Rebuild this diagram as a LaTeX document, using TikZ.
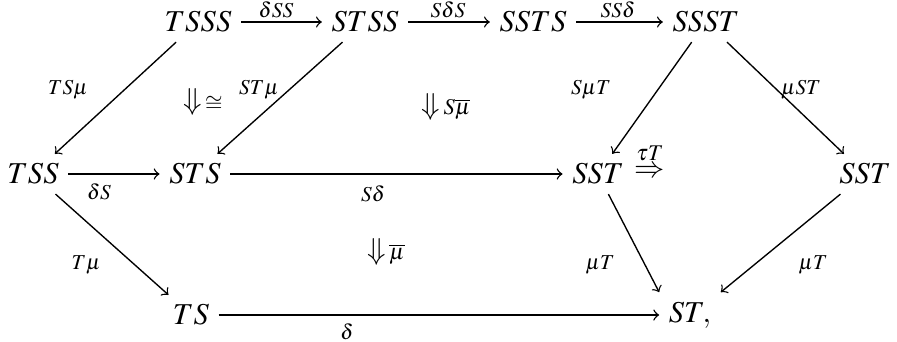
\documentclass[tikz,border=0pt]{standalone}
\usepackage{amsmath,amssymb}
\usepackage{mathptmx}
\usepackage{tikz}

\begin{document}
\begin{tikzpicture}[x=0.33pt,y=-0.33pt,
  every node/.style={inner sep=3pt},
  arr/.style={->,line width=0.45pt},
  lbl/.style={font=\scriptsize,inner sep=1pt}]
\useasboundingbox (0,0) rectangle (897,342);
% objects
\node (tsss) at (198,22) {$TSSS$};
\node (stss) at (365,22) {$STSS$};
\node (ssts) at (533,22) {$SSTS$};
\node (ssst) at (706,22) {$SSST$};
\node (tss) at (33,174) {$TSS$};
\node (sts) at (195,174) {$STS$};
\node (sstl) at (598,174) {$SST$};
\node (sstr) at (865,174) {$SST$};
\node (ts) at (191,315) {$TS$};
\node (st) at (690,315) {$ST,$};
% arrows
\draw[arr] (tsss) -- (stss);
\draw[arr] (stss) -- (ssts);
\draw[arr] (ssts) -- (ssst);
\draw[arr] (tsss) -- (tss);
\draw[arr] (stss) -- (sts);
\draw[arr] (ssst) -- (sstl);
\draw[arr] (ssst) -- (sstr);
\draw[arr] (tss) -- (sts);
\draw[arr] (sts) -- (sstl);
\draw[arr] (tss) -- (ts);
\draw[arr] (ts) -- (st.west |- ts);
\draw[arr] (sstl) -- (st.north west);
\draw[arr] (sstr) -- (st.north east);
% labels
\node[lbl] (l1) at (276,10) {$\delta SS$};
\node[lbl] (l2) at (448,10) {$S\delta S$};
\node[lbl] (l3) at (618,10) {$SS\delta$};
\node[lbl] (l4) at (68,90) {$TS\mu$};
\node[lbl] (l5) at (259,90) {$ST\mu$};
\node[lbl] (l6) at (591,90) {$S\mu T$};
\node[lbl] (l7) at (801,90) {$\mu ST$};
\node[lbl] (l8) at (99,192) {$\delta S$};
\node[lbl] (l9) at (373,194) {$S\delta$};
\node[lbl] (l10) at (86,265) {$T\mu$};
\node[lbl] (l11) at (347,332) {$\delta$};
\node[lbl] (l12) at (600,265) {$\mu T$};
\node[lbl] (l13) at (813,265) {$\mu T$};
% 2-cells
\node (c1) at (203,102) {$\Downarrow\!{\scriptstyle\cong}$};
\node (c2) at (446,107) {$\Downarrow\!{\scriptstyle S\overline{\mu}}$};
\node (c3) at (650,160) {$\stackrel{\tau T}{\Rightarrow}$};
\node (c4) at (386,252) {$\Downarrow\!{\scriptstyle\overline{\mu}}$};
\end{tikzpicture}
\end{document}
